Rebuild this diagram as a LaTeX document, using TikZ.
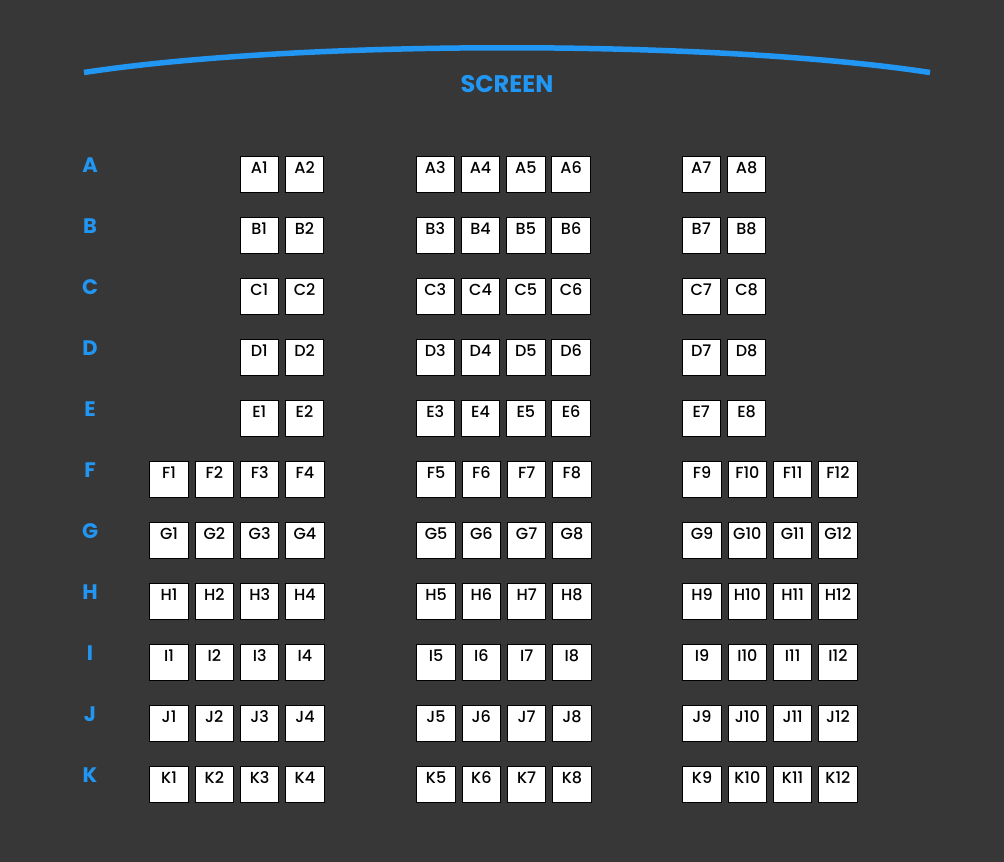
\documentclass[tikz,border=0pt]{standalone}
\usepackage{fontspec}
\setmainfont{Poppins}
\newfontfamily\seatfont{Poppins}[UprightFont=* Medium]
\definecolor{bg}{HTML}{383738}
\definecolor{scr}{HTML}{2196F3}
\tikzset{
  seat/.style={draw=black, line width=1pt, fill=white, anchor=north west, inner sep=0pt,
    minimum width=38.5pt, minimum height=36pt, text height=17.3pt, text depth=18.7pt,
    font=\seatfont\fontsize{16}{17}\selectfont, text=black},
  rowlabel/.style={anchor=base, text=scr, font=\fontsize{21}{22}\selectfont\bfseries},
  screenlbl/.style={anchor=base, text=scr, font=\fontsize{24}{26}\selectfont\bfseries},
}
\begin{document}
\begin{tikzpicture}[x=1pt, y=-1pt]
\useasboundingbox (0,0) rectangle (1004,862);
\fill[bg] (0,0) rectangle (1004,862);
% screen
\coordinate (sl) at (84,72.5);
\coordinate (sr) at (930,72.5);
\draw[scr, line width=5.5pt] (sl) .. controls (300,39.5) and (714,39.5) .. (sr);
\node[screenlbl] (screen) at (507,92.5) {SCREEN};
% rows
\foreach \r [count=\i from 0] in {A,B,C,D,E,F,G,H,I,J,K} {
  \pgfmathsetmacro{\top}{156+61*\i}
  \node[rowlabel] (row\r) at (90,\top+16.7) {\r};
}
% rows A-E
\foreach \r [count=\i from 0] in {A,B,C,D,E} {
  \pgfmathsetmacro{\top}{156+61*\i}
  \node[seat] (\r1) at (239.5,\top) {\r1};
  \node[seat] (\r2) at (284.8,\top) {\r2};
  \foreach \c [count=\k from 0] in {3,4,5,6} {
    \node[seat] (\r\c) at (415.5+45.3*\k,\top) {\r\c};
  }
  \node[seat] (\r7) at (681.5,\top) {\r7};
  \node[seat] (\r8) at (726.8,\top) {\r8};
}
% rows F-K
\foreach \r [count=\i from 5] in {F,G,H,I,J,K} {
  \pgfmathsetmacro{\top}{156+61*\i}
  \foreach \c [count=\k from 0] in {1,2,3,4} {
    \node[seat] (\r\c) at (149.3+45.3*\k,\top) {\r\c};
  }
  \foreach \c [count=\k from 0] in {5,6,7,8} {
    \node[seat] (\r\c) at (416.3+45.3*\k,\top) {\r\c};
  }
  \foreach \c [count=\k from 0] in {9,10,11,12} {
    \node[seat] (\r\c) at (682.3+45.3*\k,\top) {\r\c};
  }
}
\end{tikzpicture}
\end{document}
